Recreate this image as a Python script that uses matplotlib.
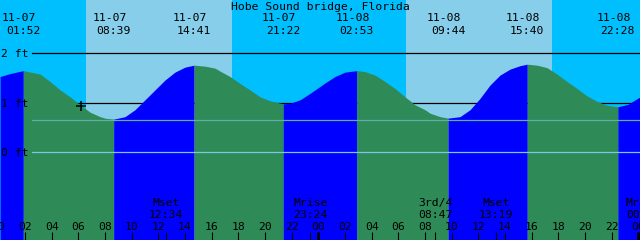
import matplotlib
matplotlib.use("Agg")
import matplotlib.pyplot as plt
import matplotlib.transforms as mtransforms
import numpy as np

# tide curve (hours from 11-07 00:00, feet)
curve_hours = [0.13, 0.88, 1.87, 3.13, 3.88, 4.63, 5.38, 6.13, 6.88, 7.63,
               8.0, 8.65, 9.5, 10.25, 11.0, 11.75, 12.5, 13.25, 14.0, 14.68,
               15.5, 16.25, 16.63, 17.38, 18.13, 18.88, 19.63, 20.38, 21.37, 21.88,
               22.63, 23.38, 24.13, 24.5, 25.25, 26.0, 26.88, 27.5, 28.25, 29.0,
               29.75, 30.5, 31.25, 32.0, 32.38, 33.13, 33.73, 34.63, 35.38, 36.13,
               36.88, 37.63, 38.38, 39.13, 39.67, 40.4, 41.15, 41.9, 42.65, 43.4,
               44.15, 44.9, 45.65, 46.47, 47.23, 48.13]
curve_heights = [1.53, 1.59, 1.65, 1.58, 1.43, 1.26, 1.12, 0.96, 0.81, 0.72,
                 0.69, 0.67, 0.72, 0.86, 1.06, 1.26, 1.46, 1.62, 1.72, 1.76,
                 1.74, 1.70, 1.64, 1.53, 1.39, 1.26, 1.12, 1.04, 0.98, 0.99,
                 1.06, 1.19, 1.33, 1.40, 1.53, 1.62, 1.65, 1.63, 1.56, 1.43,
                 1.29, 1.12, 0.96, 0.86, 0.79, 0.72, 0.69, 0.72, 0.86, 1.09,
                 1.36, 1.56, 1.68, 1.75, 1.78, 1.76, 1.71, 1.58, 1.43, 1.29,
                 1.14, 1.03, 0.95, 0.92, 0.97, 1.12]

tide_days = [0, 0, 0, 0, 1, 1, 1, 1]
tide_dates = ["11-07", "11-07", "11-07", "11-07", "11-08", "11-08", "11-08", "11-08"]
tide_times = ["01:52", "08:39", "14:41", "21:22", "02:53", "09:44", "15:40", "22:28"]

moon_names = ["Mset", "Mrise", "3rd/4", "Mset", "Mrise"]
moon_days = [0, 0, 1, 1, 2]
moon_times = ["12:34", "23:24", "08:47", "13:19", "00:21"]

sun_days = [0, 0, 1, 1]
sun_times = ["06:34", "17:31", "06:35", "17:31"]  # rise, set, rise, set

depth_lines = [0, 1, 2]
msl_level = 0.65
now_time = "06:12"
now_height = 0.93

title = "Hobe Sound bridge, Florida"

SKY_DAY = "#87ceeb"
SKY_NIGHT = "#00bfff"
RISE = "#0000ff"
FALL = "#2e8b57"
FONT = "DejaVu Sans Mono"
FS = 8.2


def hours(day, hhmm):
    h, m = hhmm.split(":")
    return day * 24 + int(h) + int(m) / 60.0


# pixel geometry of the picture: 13.333 px per hour, 49.5 px per foot
W, H = 640, 240
x0 = 1.67 / 13.333
x1 = x0 + W / 13.333
y_top = 152.3 / 49.5
y_bot = (152.3 - H) / 49.5

fig = plt.figure(figsize=(6.4, 2.4), dpi=100)
ax = fig.add_axes([0, 0, 1, 1])
ax.set_xlim(x0, x1)
ax.set_ylim(y_bot, y_top)
ax.axis("off")
trans = mtransforms.blended_transform_factory(ax.transData, ax.transAxes)


def yf(py):
    return 1 - py / H


# sky: night background, day bands
ax.axvspan(x0, x1, color=SKY_NIGHT, lw=0, zorder=0)
sun_h = [hours(d, t) for d, t in zip(sun_days, sun_times)]
for rise, sset in zip(sun_h[0::2], sun_h[1::2]):
    ax.axvspan(rise, sset, color=SKY_DAY, lw=0, zorder=0)

# depth lines behind the water
for d in depth_lines[1:]:
    ax.axhline(d, xmin=32 / W, color="black", lw=0.9, zorder=1)

# water, blue while rising and green while falling
t = np.array(curve_hours)
h = np.array(curve_heights)
ext_h = [hours(d, s) for d, s in zip(tide_days, tide_times)]
cuts = [0] + [int(np.argmin(np.abs(t - e))) for e in ext_h] + [len(t) - 1]
for a, b in zip(cuts[:-1], cuts[1:]):
    if b <= a:
        continue
    seg_t = t[a:b + 1]
    seg_h = h[a:b + 1]
    col = RISE if seg_h[-1] > seg_h[0] else FALL
    ax.fill_between(seg_t, seg_h, y_bot, color=col, lw=0, zorder=2)

# datum and mean level lines over the water
ax.axhline(depth_lines[0], xmin=32 / W, color="#7cc8e4", lw=0.9, zorder=3)
ax.axhline(msl_level, xmin=32 / W, color="#62ada6", lw=0.9, zorder=3)

# depth labels
for d, py in zip(depth_lines, [156.5, 107, 57]):
    ax.text(1 / W, yf(py), f"{d} ft", transform=ax.transAxes, ha="left",
            va="baseline", fontsize=FS, family=FONT, zorder=5)

# now marker
ax.plot(hours(0, now_time), now_height, marker="+", color="black", ms=6.5,
        mew=1.1, zorder=5)

# title and tide event labels
fig.text(0.5, yf(9.5), title, ha="center", va="baseline", fontsize=FS,
         family=FONT)
for e, dt, tm in zip(ext_h, tide_dates, tide_times):
    ax.text(e - 4 / 13.333, yf(21), dt, transform=trans, ha="center",
            va="baseline", fontsize=FS, family=FONT, zorder=5)
    ax.text(e, yf(33.5), tm, transform=trans, ha="center", va="baseline",
            fontsize=FS, family=FONT, zorder=5)

# hour ticks along the bottom
for hr in range(0, 50, 2):
    thick = hr % 24 == 0
    ax.plot([hr, hr], [yf(232), yf(240)], transform=trans, color="black",
            lw=2.0 if thick else 0.8, solid_capstyle="butt", zorder=4)
    ax.text(hr, yf(230), f"{hr % 24:02d}", transform=trans, ha="center",
            va="baseline", fontsize=FS, family=FONT, zorder=5)

# moon events
for name, d, tm in zip(moon_names, moon_days, moon_times):
    mh = hours(d, tm)
    ax.plot([mh, mh], [yf(232), yf(240)], transform=trans, color="black",
            lw=0.8, solid_capstyle="butt", zorder=4)
    ax.text(mh, yf(206), name, transform=trans, ha="center", va="baseline",
            fontsize=FS, family=FONT, zorder=5)
    ax.text(mh, yf(217.5), tm, transform=trans, ha="center", va="baseline",
            fontsize=FS, family=FONT, zorder=5)

fig.savefig("out.png", dpi=100)
